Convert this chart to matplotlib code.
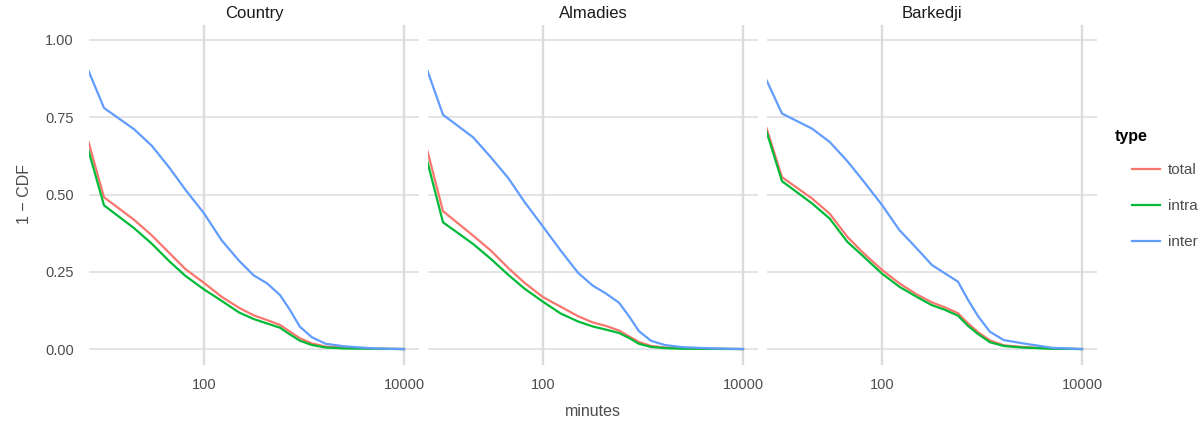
import numpy as np
import matplotlib.pyplot as plt

plt.rcParams['font.family'] = ['Liberation Sans', 'DejaVu Sans']

minutes = [7, 10, 20, 30, 45, 65, 100, 150, 225, 315, 425, 575, 725, 910, 1200, 1650, 2500, 5000, 10000]

panels = ["Country", "Almadies", "Barkedji"]
types = ["total", "intra", "inter"]
colors = {"total": "#F8766D", "intra": "#00BA38", "inter": "#619CFF"}

country_total = [.670, .491, .418, .368, .311, .259, .214, .169, .133, .109, .094, .078, .056, .035, .018, .008, .005, .001, 0]
country_intra = [.642, .465, .391, .341, .284, .237, .193, .156, .118, .097, .083, .069, .047, .027, .013, .005, .002, .001, 0]
country_inter = [.900, .780, .711, .658, .587, .516, .439, .352, .285, .238, .213, .175, .126, .072, .038, .017, .009, .002, 0]

almadies_total = [.640, .446, .367, .319, .262, .215, .168, .137, .106, .086, .075, .060, .041, .023, .010, .005, .003, .001, 0]
almadies_intra = [.605, .410, .340, .292, .240, .196, .153, .115, .089, .073, .063, .052, .036, .017, .007, .003, .001, .0005, 0]
almadies_inter = [.900, .758, .685, .621, .553, .477, .396, .319, .246, .205, .180, .150, .106, .058, .027, .013, .006, .002, 0]

barkedji_total = [.715, .556, .487, .438, .363, .311, .256, .212, .176, .151, .135, .116, .083, .055, .028, .012, .007, .002, 0]
barkedji_intra = [.704, .543, .471, .422, .347, .300, .244, .201, .168, .142, .127, .108, .075, .049, .022, .010, .005, .001, 0]
barkedji_inter = [.870, .762, .713, .670, .608, .544, .466, .384, .324, .272, .245, .218, .159, .107, .056, .029, .019, .004, 0]

data = {
    "Country": {"total": country_total, "intra": country_intra, "inter": country_inter},
    "Almadies": {"total": almadies_total, "intra": almadies_intra, "inter": almadies_inter},
    "Barkedji": {"total": barkedji_total, "intra": barkedji_intra, "inter": barkedji_inter},
}

grid_col = "#dcdcdc"
text_col = "#4d4d4d"

W, H = 1202, 425
fig = plt.figure(figsize=(W / 100, H / 100), dpi=100)
lefts = [89, 428, 767]
pw = 330
top, bottom = 24.5, 364.5

handles = []
for i, name in enumerate(panels):
    ax = fig.add_axes([lefts[i] / W, 1 - bottom / H, pw / W, (bottom - top) / H])
    for t in types:
        ln, = ax.plot(minutes, data[name][t], color=colors[t], lw=1.6, label=t,
                      solid_joinstyle="round", zorder=3)
        if i == 0:
            handles.append(ln)
    ax.set_xscale("log")
    ax.set_xlim(10 ** 0.85, 10 ** 4.15)
    ax.set_ylim(-0.05, 1.05)
    ax.set_xticks([100, 10000])
    ax.set_xticklabels(["100", "10000"])
    ax.minorticks_off()
    ax.set_yticks([0, 0.25, 0.5, 0.75, 1.0])
    if i == 0:
        ax.set_yticklabels(["0.00", "0.25", "0.50", "0.75", "1.00"])
    else:
        ax.set_yticklabels([])
    ax.tick_params(axis="y", length=0, labelsize=10.5, colors=text_col, pad=11)
    ax.tick_params(axis="x", length=0, labelsize=10.5, colors=text_col, pad=9.5)
    ax.grid(axis="y", color=grid_col, lw=1.1)
    ax.grid(axis="x", color=grid_col, lw=1.7)
    ax.set_axisbelow(True)
    for s in ax.spines.values():
        s.set_visible(False)
    ax.set_title(name, fontsize=12, color="#1a1a1a", pad=4.5)
    if i == 0:
        ax.set_ylabel("1 \u2212 CDF", fontsize=11.5, color=text_col, labelpad=9)
    if i == 1:
        ax.set_xlabel("minutes", fontsize=11.5, color=text_col, labelpad=9)

fig.text(1115 / W, 1 - 137 / H, "type", fontsize=11.5, fontweight="bold",
         color="black", ha="left", va="center")
fig.legend(handles=handles, labels=types, loc="upper left",
           bbox_to_anchor=(1132 / W, 1 - 163 / H), frameon=False, fontsize=11,
           handlelength=1.85, handletextpad=0.5, labelspacing=1.45,
           borderpad=0, borderaxespad=0, labelcolor=text_col)

fig.savefig("out.png", dpi=100)
